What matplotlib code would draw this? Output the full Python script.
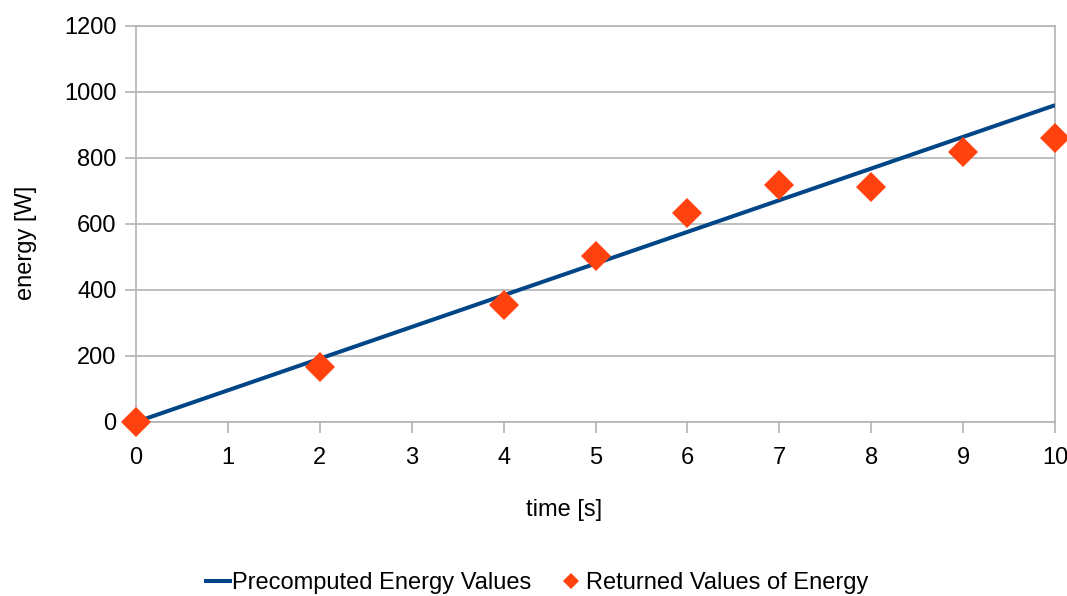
import matplotlib
matplotlib.use("Agg")
import matplotlib.pyplot as plt
from matplotlib.lines import Line2D

# precomputed energy (straight line) and returned measurements
line_time = [0, 2, 4, 5, 6, 7, 8, 9, 10]
line_energy = [0, 192, 384, 480, 576, 672, 768, 864, 960]

pt_time = [0, 2, 4, 5, 6, 7, 8, 9, 10]
pt_energy = [0, 167, 354, 503, 632, 717, 711, 817, 861]

xticks = list(range(0, 11))
yticks = list(range(0, 1201, 200))

blue = "#004586"
orange = "#ff420e"
grid = "#b3b3b3"

plt.rcParams['font.family'] = ['Liberation Sans', 'DejaVu Sans']

def main():
    fig = plt.figure(figsize=(10.67, 5.96), dpi=100)
    ax = fig.add_axes([136/1067, 1 - 422/596, 919/1067, 396/596])

    ax.plot(line_time, line_energy, color=blue, lw=2.9, zorder=3,
            solid_capstyle="butt")
    ax.plot(pt_time, pt_energy, ls="none", marker="D", ms=15,
            color=orange, markeredgewidth=0, zorder=4, clip_on=False)

    ax.set_xlim(0, 10)
    ax.set_ylim(0, 1200)
    ax.set_xticks(xticks)
    ax.set_yticks(yticks)

    #grid and frame
    ax.yaxis.grid(True, color=grid, lw=1.2)
    ax.set_axisbelow(True)
    for s in ax.spines.values():
        s.set_color(grid)
        s.set_linewidth(1.2)
    ax.tick_params(axis="both", colors=grid, length=8, width=1.2,
                   labelcolor="black", labelsize=17, pad=6)
    ax.tick_params(axis="x", pad=10)

    ax.set_xlabel("time [s]", fontsize=17)
    ax.xaxis.set_label_coords((564 - 136) / 919, (422 - 499) / 396)
    ax.set_ylabel("energy [W]", fontsize=17)
    ax.yaxis.set_label_coords((37 - 136) / 919, (422 - 243) / 396)

    handles = [Line2D([], [], color=blue, lw=2.9),
               Line2D([], [], ls="none", marker="D", ms=8, color=orange,
                      markeredgewidth=0)]
    fig.legend(handles, ["Precomputed Energy Values", "Returned Values of Energy"],
               loc="center", bbox_to_anchor=(537/1067, 1 - 583/596), ncol=2,
               frameon=False, fontsize=17, handlelength=1.0, handletextpad=0.1,
               columnspacing=1.2, borderaxespad=0)

    fig.savefig("out.png", dpi=100)

if __name__ == "__main__":
    main()
